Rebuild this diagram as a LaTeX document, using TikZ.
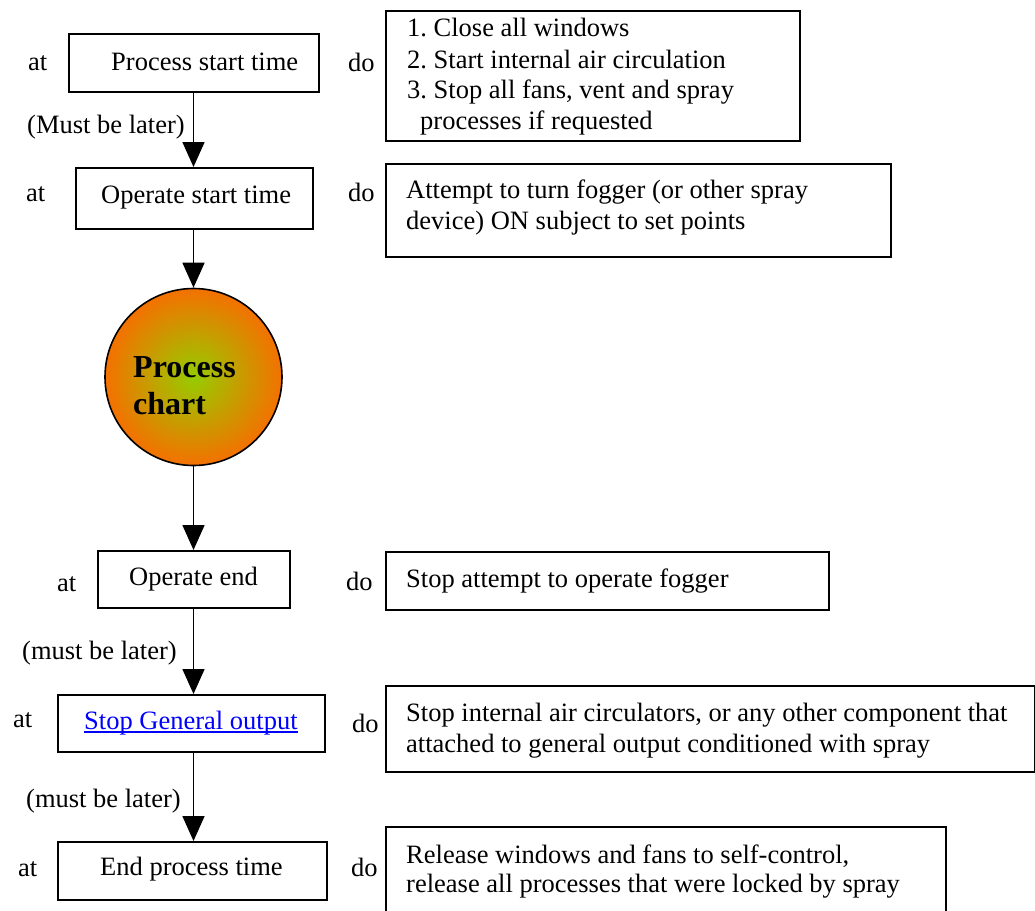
\documentclass[tikz,border=0pt]{standalone}
\usepackage{fontspec}
\setmainfont{Liberation Serif}
\usetikzlibrary{arrows.meta}

\definecolor{linkblue}{RGB}{0,0,255}
\definecolor{ballgreen}{RGB}{150,204,0}
\definecolor{ballorange}{RGB}{255,102,0}

% green core fading into orange towards the rim
\pgfdeclareradialshading{procball}{\pgfpoint{0bp}{0bp}}{%
  color(0bp)=(ballgreen); color(28bp)=(ballorange); color(50bp)=(ballorange)}

\newcommand\diagfont{\fontsize{26.5pt}{31pt}\selectfont}
\newcommand\ballfont{\fontsize{32pt}{38pt}\selectfont\bfseries}

\begin{document}
\begin{tikzpicture}[x=1pt,y=-1pt,
  frame/.style={draw, line width=1.6pt, rectangle, inner sep=0pt, anchor=north west},
  txt/.style={inner sep=0pt, anchor=base west, font=\diagfont},
  flow/.style={line width=1.6pt, -{Triangle[width=22pt,length=25pt]}}]

\useasboundingbox (0,0) rectangle (1035,910);
\clip (0,0) rectangle (1035,910);

% ---- time boxes (left column) ----
\node[frame, minimum width=250pt, minimum height=58pt] (pst) at (68,33) {};
\node[frame, minimum width=237pt, minimum height=61pt] (ost) at (75,167) {};
\node[frame, minimum width=192pt, minimum height=57pt] (oend) at (97,550) {};
\node[frame, minimum width=267pt, minimum height=57pt] (sgo) at (57,694) {};
\node[frame, minimum width=269pt, minimum height=58pt] (ept) at (57,841) {};

% ---- action boxes (right column) ----
\node[frame, minimum width=414pt, minimum height=130pt] (actA) at (385,10) {};
\node[frame, minimum width=505pt, minimum height=93pt]  (actB) at (385,163) {};
\node[frame, minimum width=443pt, minimum height=58pt]  (actC) at (385,551) {};
\node[frame, minimum width=649pt, minimum height=86pt]  (actD) at (385,685) {};
\node[frame, minimum width=560pt, minimum height=110pt] (actE) at (385,826) {};

% ---- process chart ball ----
\node[circle, draw, line width=1.6pt, minimum size=177pt, inner sep=0pt,
      shade, shading=procball] (chart) at (193.5,377) {};
\node[txt, font=\ballfont] (chartA) at (133,377) {Process};
\node[txt, font=\ballfont] (chartB) at (133,414) {chart};

% ---- row 1 ----
\node[txt] (at1) at (28,70) {at};
\node[txt] (pstT) at (111,70) {Process start time};
\node[txt] (do1) at (348,71) {do};
\node[txt] (a1) at (407,36) {1.\ Close all windows};
\node[txt] (a2) at (407,68) {2.\ Start internal air circulation};
\node[txt] (a3) at (407,98) {3.\ Stop all fans, vent and spray};
\node[txt] (a4) at (420,129) {processes if requested};
\node[txt] (later1) at (27,133) {(Must be later)};

% ---- row 2 ----
\node[txt] (at2) at (26,201) {at};
\node[txt] (ostT) at (101,203) {Operate start time};
\node[txt] (do2) at (348,201) {do};
\node[txt] (b1) at (406,198) {Attempt to turn fogger (or other spray};
\node[txt] (b2) at (406,229) {device) ON subject to set points};

% ---- row 3 ----
\node[txt] (at3) at (57,591) {at};
\node[txt] (oendT) at (129,585) {Operate end};
\node[txt] (do3) at (346,590) {do};
\node[txt] (c1) at (406,587) {Stop attempt to operate fogger};
\node[txt] (later2) at (22,659) {(must be later)};

% ---- row 4 ----
\node[txt] (at4) at (13,727) {at};
\node[txt, text=linkblue] (sgoT) at (84,729) {Stop General output};
\draw[linkblue, line width=1.3pt] ([yshift=-3pt]sgoT.base west) -- ([yshift=-3pt]sgoT.base east);
\node[txt] (do4) at (352,732) {do};
\node[txt] (d1) at (406,721) {Stop internal air circulators, or any other component that};
\node[txt] (d2) at (406,752) {attached to general output conditioned with spray};
\node[txt] (later3) at (26,807) {(must be later)};

% ---- row 5 ----
\node[txt] (at5) at (18,876) {at};
\node[txt] (eptT) at (100,875) {End process time};
\node[txt] (do5) at (351,876) {do};
\node[txt] (e1) at (406,863) {Release windows and fans to self-control,};
\node[txt] (e2) at (406,892) {release all processes that were locked by spray};

% ---- flow arrows ----
\draw[flow] (pst.south -| chart) -- (ost.north -| chart);
\draw[flow] (ost.south -| chart) -- (chart.north);
\draw[flow] (chart.south) -- (oend.north -| chart);
\draw[flow] (oend.south -| chart) -- (sgo.north -| chart);
\draw[flow] (sgo.south -| chart) -- (ept.north -| chart);

\end{tikzpicture}
\end{document}
